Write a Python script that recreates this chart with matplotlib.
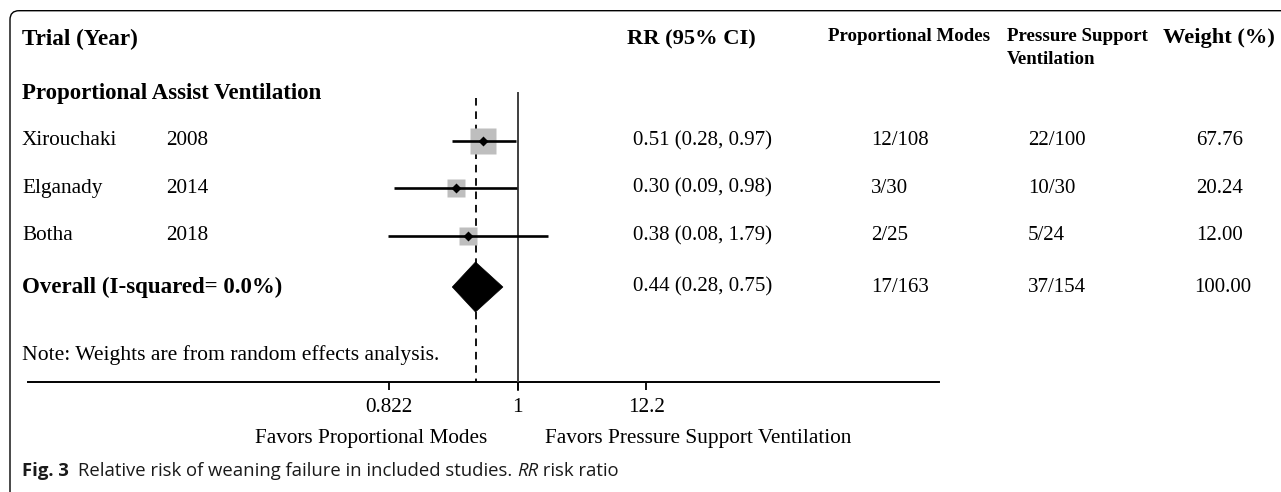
import matplotlib
matplotlib.use('Agg')
import matplotlib.pyplot as plt
import numpy as np
from matplotlib.patches import FancyBboxPatch, Polygon

# study level data
trials = ['Xirouchaki', 'Elganady', 'Botha']
years = ['2008', '2014', '2018']
rr = [0.51, 0.30, 0.38]
ci_low = [0.28, 0.09, 0.08]
ci_high = [0.97, 0.98, 1.79]
events_pm = ['12/108', '3/30', '2/25']
events_psv = ['22/100', '10/30', '5/24']
weights = [67.76, 20.24, 12.00]

# pooled estimate
overall_rr = 0.44
overall_low = 0.28
overall_high = 0.75
overall_pm = '17/163'
overall_psv = '37/154'
overall_weight = 100.00

tick_values = [0.0822, 1, 12.2]
tick_labels = ['0.822', '1', '12.2']

W, H = 1281, 492
SERIF = 'Liberation Serif'
SANS = 'Open Sans'

fig = plt.figure(figsize=(W / 100, H / 100), dpi=100)

# layout axes in pixel units (y down)
lay = fig.add_axes([0, 0, 1, 1])
lay.set_xlim(0, W)
lay.set_ylim(H, 0)
lay.axis('off')

# forest axes: log x, same pixel y
ax = fig.add_axes([0, 0, 1, 1])
ax.patch.set_alpha(0)
ax.set_xscale('log')
x_one, px_per_ln = 517.7, 51.4
ax.set_xlim(np.exp(-x_one / px_per_ln), np.exp((W - x_one) / px_per_ln))
ax.set_ylim(H, 0)
ax.axis('off')

# border with rounded top-left corner
lay.add_patch(FancyBboxPatch((10, 10.7), 1400, 600,
                             boxstyle='round,pad=0,rounding_size=9',
                             fc='none', ec='black', lw=1.0))

def txt(x, y, s, size=15.3, bold=False, ha='left', **kw):
    lay.text(x, y, s, fontsize=size, family=SERIF, ha=ha, va='center',
             fontweight='bold' if bold else 'normal', **kw)

# header
txt(22, 39, 'Trial (Year)', 16.7, True)
txt(627, 39, 'RR (95% CI)', 16.2, True)
txt(828, 36.5, 'Proportional Modes', 13.6, True)
txt(1007, 36.5, 'Pressure Support', 13.6, True)
txt(1007, 59, 'Ventilation', 13.6, True)
txt(1163, 38.5, 'Weight (%)', 16.2, True)
txt(22, 93, 'Proportional Assist Ventilation', 16.5, True)

row_y = [140.7, 188.3, 235.5]
overall_y = 287

for i, y in enumerate(row_y):
    txt(22, y, trials[i])
    txt(166, y, years[i])
    txt(633, y, f'{rr[i]:.2f} ({ci_low[i]:.2f}, {ci_high[i]:.2f})', 15)
    txt(871, y, events_pm[i], 15)
    txt(1028, y, events_psv[i], 15)
    txt(1196, y, f'{weights[i]:.2f}', 15)

    side = (10.5 + 1.88 * np.sqrt(weights[i])) / 1.389
    ax.plot(rr[i], y, marker='s', ms=side, color='#bebebe', mec='none', zorder=2)
    ax.plot([ci_low[i], ci_high[i]], [y, y], color='black', lw=1.9, zorder=3,
            solid_capstyle='butt')
    ax.plot(rr[i], y, marker='D', ms=5.6, color='black', mec='none', zorder=4)

txt(22, overall_y, 'Overall (I-squared= 0.0%)', 16.5, True)
txt(633, overall_y, f'{overall_rr:.2f} ({overall_low:.2f}, {overall_high:.2f})', 15)
txt(871, overall_y, overall_pm, 15)
txt(1028, overall_y, overall_psv, 15)
txt(1194, overall_y, f'{overall_weight:.2f}', 15)

ax.add_patch(Polygon([(overall_low, overall_y), (overall_rr, overall_y - 25),
                      (overall_high, overall_y), (overall_rr, overall_y + 25)],
                     closed=True, fc='black', ec='black', lw=0.5, zorder=5))

txt(22, 355, 'Note: Weights are from random effects analysis.', 15.6)

# reference lines
axis_y = 382.3
ax.plot([1, 1], [93, axis_y + 8], color='#3f3f3f', lw=1.4, zorder=1)
ax.plot([overall_rr, overall_rr], [98, axis_y], color='black', lw=1.3,
        dashes=(4.2, 3.2), zorder=1)

# x axis
lay.plot([28, 939], [axis_y, axis_y], color='black', lw=1.4)
ax.vlines(tick_values, axis_y, axis_y + 8, color='black', lw=1.3)
for v, lab in zip(tick_values, tick_labels):
    ax.text(v, 408, lab, fontsize=15.3, family=SERIF, ha='center', va='center')

txt(487, 438, 'Favors Proportional Modes', ha='right')
txt(545, 438, 'Favors Pressure Support Ventilation')

# caption
fig.canvas.draw()
r = fig.canvas.get_renderer()
cx = 22
parts = [('Fig. 3', 'bold', 'normal', 9), ('Relative risk of weaning failure in included studies. ', 'normal', 'normal', 0),
         ('RR', 'normal', 'italic', 0), (' risk ratio', 'normal', 'normal', 0)]
for s, wgt, sty, gap in parts:
    t = lay.text(cx, 471.5, s, fontsize=13.3, family=SANS, fontweight=wgt,
                 fontstyle=sty, ha='left', va='center', color='#1a1a1a')
    bb = t.get_window_extent(r)
    cx += bb.width + gap

fig.savefig('out.png', dpi=100)
